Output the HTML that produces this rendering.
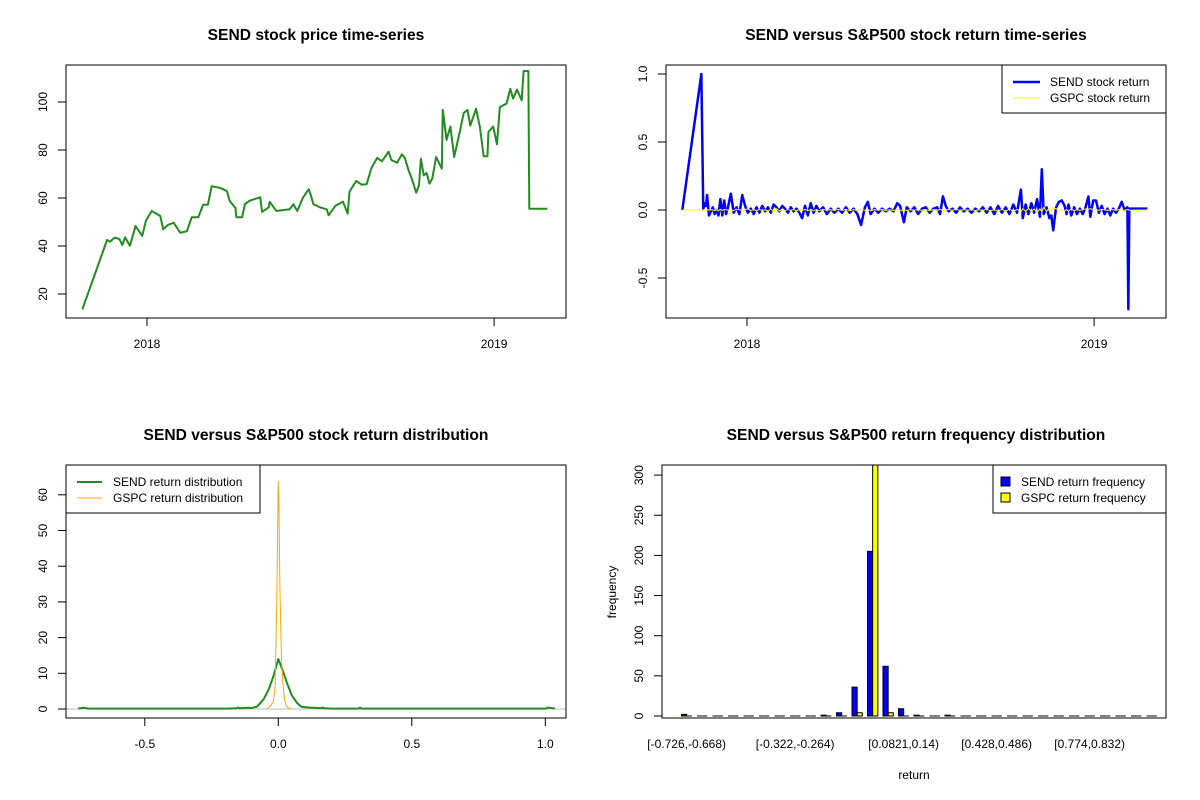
<!DOCTYPE html>
<html><head><meta charset="utf-8"><style>
html,body{margin:0;padding:0;background:#fff}
svg{display:block;font-family:"Liberation Sans",Arial,sans-serif}
</style></head><body>
<svg id="chart" width="1200" height="800" viewBox="0 0 1200 800">
<defs><clipPath id="clipBR"><rect x="662" y="465" width="504" height="253"/></clipPath></defs>
<rect width="1200" height="800" fill="#fff"/>
<g id="tl"></g>
<g id="tr"></g>
<g id="bl"></g>
<g id="br"></g>
</svg>
<script>
// ---- price panel data ----
const priceDays=[-68,-42,-39,-34,-29,-26,-23,-18,-12,-5,-1,5,14,17,22,28,35,42,47,54,59,64,68,77,84,87,93,94,100,103,108,119,121,128,129,136,150,154,158,164,170,172,175,182,189,191,198,206,211,213,220,226,231,236,242,247,254,257,263,268,271,275,279,283,286,288,291,294,297,300,304,310,311,315,319,323,329,333,337,340,346,350,354,358,359,364,368,371,378,382,385,389,394,396,401,402,421];
const prices=[13.6,42.5,41.8,43.5,42.9,40.4,43.6,40.1,48.3,44.2,50.7,54.6,52.5,47,48.8,49.7,45.5,46.2,52,52,57.2,57.2,64.9,64.2,62.9,58.7,55.9,52,52,57.5,58.9,60.3,54.2,56.1,58.4,54.6,55.3,57.4,54.6,60.2,63.6,61.5,57.4,56.1,55.3,52.8,56.7,58.5,53.5,62.7,67.1,65.5,65.8,72.5,76.7,75.3,79.3,75.8,74.7,78.2,76.8,71.6,67.4,62.2,65.3,76.4,69.4,70.4,66,68.1,77.1,72.2,96.7,84.2,89.8,77.1,87.8,95.4,96.7,90.2,97.2,89.6,77.4,77.4,87.5,89.8,82.4,97.9,99.3,105.5,101.4,105.2,100.7,112.9,112.9,55.5,55.5];
const priceTicks=[20,40,60,80,100];
const yearTicks=[{d:0,l:"2018"},{d:365,l:"2019"}];
// ---- return panel data ----
const retDays=[-68,-48,-46,-44,-43,-42,-40,-38,-36,-34,-32,-30,-28,-26,-24,-22,-20,-17,-14,-11,-8,-5,-2,1,4,7,10,13,16,19,22,25,28,31,34,37,40,43,46,49,52,55,58,61,64,67,70,73,76,80,84,88,92,96,100,104,108,112,116,120,124,127,130,134,138,142,146,150,154,158,161,165,168,172,176,180,184,188,192,196,200,203,206,209,212,216,220,224,228,232,236,240,244,248,252,256,260,264,268,272,276,280,284,288,290,293,296,299,302,305,308,310,312,315,318,320,322,325,328,331,334,336,338,341,344,347,350,353,356,359,361,364,367,370,373,376,379,382,385,388,391,394,397,400,401,402,421];
const sendRet=[0,1.0,0.01,0.05,0.03,0.11,-0.04,-0.01,0.02,-0.03,0.0,-0.04,0.08,-0.04,0.07,-0.03,0.02,0.12,-0.02,0.02,-0.03,0.11,0.03,-0.02,0.01,-0.03,0.02,-0.02,0.03,-0.01,0.02,-0.02,0.04,0.02,-0.01,0.03,0.01,-0.02,0.02,-0.01,0.01,-0.02,-0.06,0.03,-0.04,0.05,-0.02,0.03,-0.01,0.02,-0.03,0.01,-0.02,0.01,-0.02,0.02,-0.02,0.01,-0.03,-0.11,0.02,0.06,-0.03,0.01,-0.02,0.01,-0.01,0.01,-0.01,0.05,0.03,-0.09,0.02,-0.01,0.02,-0.03,0.01,0.02,-0.02,0.01,0.02,-0.03,0.10,0.03,-0.01,0.01,-0.02,0.02,-0.01,0.01,-0.02,0.01,-0.01,0.02,-0.02,0.02,-0.03,0.03,-0.02,0.02,-0.03,0.04,-0.02,0.15,-0.06,0.04,-0.03,0.05,-0.02,0.08,-0.05,0.30,-0.03,0.02,-0.06,-0.04,-0.15,0.02,0.06,0.07,0.03,-0.03,0.04,-0.04,0.02,-0.03,0.01,-0.03,0.02,0.10,-0.05,0.07,0.07,-0.02,0.03,-0.03,0.01,-0.04,0.01,-0.02,0.01,0.06,0.0,0.02,-0.73,0.01,0.01];
const gspcRet=[0,0,0,0.002,-0.003,0.004,-0.002,0.003,0.001,-0.004,0.002,-0.006,0.005,-0.003,0.004,0.002,-0.002,0.003,-0.004,0.006,0.002,-0.003,0.004,0.008,-0.005,0.004,-0.006,0.005,-0.004,0.003,-0.01,0.008,-0.012,0.01,-0.008,0.006,-0.004,0.005,-0.003,0.004,-0.006,0.003,-0.004,0.005,-0.006,0.004,-0.005,0.003,-0.004,0.005,-0.002,0.003,-0.004,0.006,-0.003,0.004,-0.005,0.003,-0.004,0.005,-0.003,0.004,-0.006,0.003,-0.002,0.004,-0.003,0.002,-0.004,0.005,-0.003,0.002,-0.004,0.003,-0.002,0.004,-0.003,0.002,-0.004,0.003,-0.002,0.004,-0.003,0.002,0.004,-0.003,0.005,-0.004,0.003,-0.002,0.003,-0.004,0.002,-0.003,0.004,-0.005,0.003,-0.008,0.006,-0.01,0.008,-0.012,0.005,-0.015,0.01,-0.008,0.012,-0.01,0.008,-0.02,0.01,-0.015,0.02,-0.01,0.015,-0.01,0.02,0.01,-0.008,0.006,-0.01,0.005,-0.01,0.008,-0.006,0.004,-0.003,0.005,0.007,0.005,0.01,0.004,0.003,-0.002,0.004,0.002,-0.003,0.004,0.002,-0.002,0.003,0.001,-0.002,0.003,0.004,-0.002,0.0];
const retTicks=[-0.5,0,0.5,1.0];
const retTickLabels=["-0.5","0.0","0.5","1.0"];
// ---- density panel data ----
const sendDensX=[-0.75,-0.735,-0.725,-0.71,-0.6,-0.4,-0.2,-0.155,-0.15,-0.145,-0.12,-0.1,-0.08,-0.056,-0.037,-0.019,0,0.016,0.031,0.05,0.069,0.087,0.12,0.14,0.16,0.166,0.172,0.2,0.3,0.306,0.312,0.5,0.8,1.0,1.01,1.02,1.036];
const sendDens=[0.1,0.3,0.3,0.1,0.1,0.1,0.1,0.2,0.4,0.2,0.3,0.3,0.65,2.6,5.3,9,14,10.9,7.6,3.9,1.8,0.6,0.4,0.3,0.2,0.4,0.2,0.1,0.1,0.4,0.1,0.1,0.1,0.1,0.4,0.3,0.1];
const gspcDensX=[-0.044,-0.03,-0.019,-0.012,-0.006,-0.002,0,0.002,0.006,0.012,0.019,0.025,0.031,0.04,0.05];
const gspcDens=[0,0.8,2,6,28.6,53,63.7,58.5,34,13.7,5.3,2,0.6,0.2,0];
const densXTicks=[-0.5,0,0.5,1.0];
const densXLabels=["-0.5","0.0","0.5","1.0"];
const densYTicks=[0,10,20,30,40,50,60];
// ---- frequency panel data ----
const binLabels=["[-0.726,-0.668)","[-0.322,-0.264)","[0.0821,0.14)","[0.428,0.486)","[0.774,0.832)"];
const binLabelIdx=[0,7,14,20,26];
const sendFreq=[2,0,0,0,0,0,0,0,0,1,4,36,205,62,9,1,0,1,0,0,0,0,0,0,0,0,0,0,0,0,0];
const gspcFreq=[0,0,0,0,0,0,0,0,0,0,0,4,340,4,0,0,0,0,0,0,0,0,0,0,0,0,0,0,0,0,0];
const freqTicks=[0,50,100,150,200,250,300];

const NS="http://www.w3.org/2000/svg";
function mk(parent,tag,attrs,text){const e=document.createElementNS(NS,tag);for(const k in attrs)e.setAttribute(k,attrs[k]);if(text!==undefined)e.textContent=text;parent.appendChild(e);return e;}
function box(g,x0,y0,x1,y1){const r=mk(g,'rect',{x:x0,y:y0,width:x1-x0,height:y1-y0,fill:'none',stroke:'#000','stroke-width':1});}
function title(g,x,y,t){const e=mk(g,'text',{x:x,y:y,'text-anchor':'middle','font-size':'15.6px','font-weight':'bold'},t);}
function yTick(g,xBox,y,label,lblX){mk(g,'line',{x1:xBox-8,x2:xBox,y1:y,y2:y,stroke:'#000'});const e=mk(g,'text',{x:lblX,y:y,'text-anchor':'middle','font-size':'12px',transform:`rotate(-90 ${lblX} ${y})`},label);}
function xTick(g,x,yBox,label,tick){if(tick!==false)mk(g,'line',{x1:x,x2:x,y1:yBox,y2:yBox+8,stroke:'#000'});const e=mk(g,'text',{x:x,y:yBox+30,'text-anchor':'middle','font-size':'12px'},label);}
function poly(g,xs,ys,fx,fy,color,w,name){let d='';for(let i=0;i<xs.length;i++)d+=(i?'L':'M')+fx(xs[i]).toFixed(2)+','+fy(ys[i]).toFixed(2);const p=mk(g,'path',{d:d,fill:'none',stroke:color,'stroke-width':w,'stroke-linejoin':'round'});return p;}

// TL: price
(function(){const g=document.getElementById('tl');
const x=d=>147+d*0.951, y=v=>294-(v-20)*2.4;
title(g,316,40,'SEND stock price time-series');
priceTicks.forEach(v=>yTick(g,66,y(v),String(v),47));
yearTicks.forEach(t=>xTick(g,x(t.d),318,t.l));
poly(g,priceDays,prices,x,y,'#228B22',2,'price-line');
box(g,66,65,566,318);})();

// TR: returns
(function(){const g=document.getElementById('tr');
const x=d=>747+d*0.951, y=v=>210-v*136;
title(g,916,40,'SEND versus S&P500 stock return time-series');
retTicks.forEach((v,i)=>yTick(g,666,y(v),retTickLabels[i],647));
yearTicks.forEach(t=>xTick(g,x(t.d),318,t.l));
poly(g,retDays,sendRet,x,y,'#0000FF',2.5,'send-return-line');
poly(g,retDays,gspcRet,x,y,'#FFFF00',1,'gspc-return-line');
box(g,666,65,1166,318);
const L=mk(g,'g',{});
mk(L,'rect',{x:1002,y:65,width:164,height:48,fill:'#fff',stroke:'#000'});
mk(L,'line',{x1:1013,x2:1040,y1:82,y2:82,stroke:'#0000FF','stroke-width':2.5});
mk(L,'line',{x1:1013,x2:1040,y1:98,y2:98,stroke:'#FFFF00','stroke-width':1});
mk(L,'text',{x:1050,y:86,'font-size':'12px'},'SEND stock return');
mk(L,'text',{x:1050,y:102,'font-size':'12px'},'GSPC stock return');})();

// BL: density
(function(){const g=document.getElementById('bl');
const x=v=>278.3+v*267, y=v=>709-v*3.57;
title(g,316,440,'SEND versus S&P500 stock return distribution');
densYTicks.forEach(v=>yTick(g,66,y(v),String(v),47));
densXTicks.forEach((v,i)=>xTick(g,x(v),718,densXLabels[i]));
const z=mk(g,'line',{x1:66,x2:566,y1:y(0),y2:y(0),stroke:'#bebebe'});
poly(g,sendDensX,sendDens,x,y,'#228B22',2,'send-density-line');
poly(g,gspcDensX,gspcDens,x,y,'#FFA500',1,'gspc-density-line');
box(g,66,465,566,718);
const L=mk(g,'g',{});
mk(L,'rect',{x:66,y:465,width:194,height:48,fill:'#fff',stroke:'#000'});
mk(L,'line',{x1:77,x2:102,y1:482,y2:482,stroke:'#228B22','stroke-width':2});
mk(L,'line',{x1:77,x2:102,y1:498,y2:498,stroke:'#FFA500','stroke-width':1});
mk(L,'text',{x:113,y:486,'font-size':'12px'},'SEND return distribution');
mk(L,'text',{x:113,y:502,'font-size':'12px'},'GSPC return distribution');})();

// BR: frequency
(function(){const g=document.getElementById('br');
const bw=5.17, gx=i=>681.5+i*15.5, y=v=>716-v*0.803;
title(g,916,440,'SEND versus S&P500 return frequency distribution');
freqTicks.forEach(v=>yTick(g,662,y(v),String(v),643));
binLabelIdx.forEach((gi,k)=>xTick(g,gx(gi)+bw,718,binLabels[k],false));
const bars=mk(g,'g',{'clip-path':'url(#clipBR)'});
function bar(x0,v,fill,name){const y0=y(0),y1=y(v);const p=mk(bars,'path',{d:`M${x0},${y0}V${y1}H${x0+bw}V${y0}Z`,fill:fill,stroke:'#000','stroke-width':1});

}
sendFreq.forEach((v,i)=>bar(gx(i),v,'#0000FF','send-freq-bar'));
gspcFreq.forEach((v,i)=>bar(gx(i)+bw,v,'#FFFF00','gspc-freq-bar'));
box(g,662,465,1166,718);
const yl=mk(g,'text',{x:616,y:592,'text-anchor':'middle','font-size':'12px',transform:'rotate(-90 616 592)'},'frequency');
const xl=mk(g,'text',{x:914,y:779,'text-anchor':'middle','font-size':'12px'},'return');
const L=mk(g,'g',{});
mk(L,'rect',{x:993,y:465,width:173,height:48,fill:'#fff',stroke:'#000'});
mk(L,'rect',{x:1001,y:477,width:9,height:9,fill:'#0000FF',stroke:'#000'});
mk(L,'rect',{x:1001,y:493,width:9,height:9,fill:'#FFFF00',stroke:'#000'});
mk(L,'text',{x:1021,y:486,'font-size':'12px'},'SEND return frequency');
mk(L,'text',{x:1021,y:502,'font-size':'12px'},'GSPC return frequency');})();
</script>
</body></html>
